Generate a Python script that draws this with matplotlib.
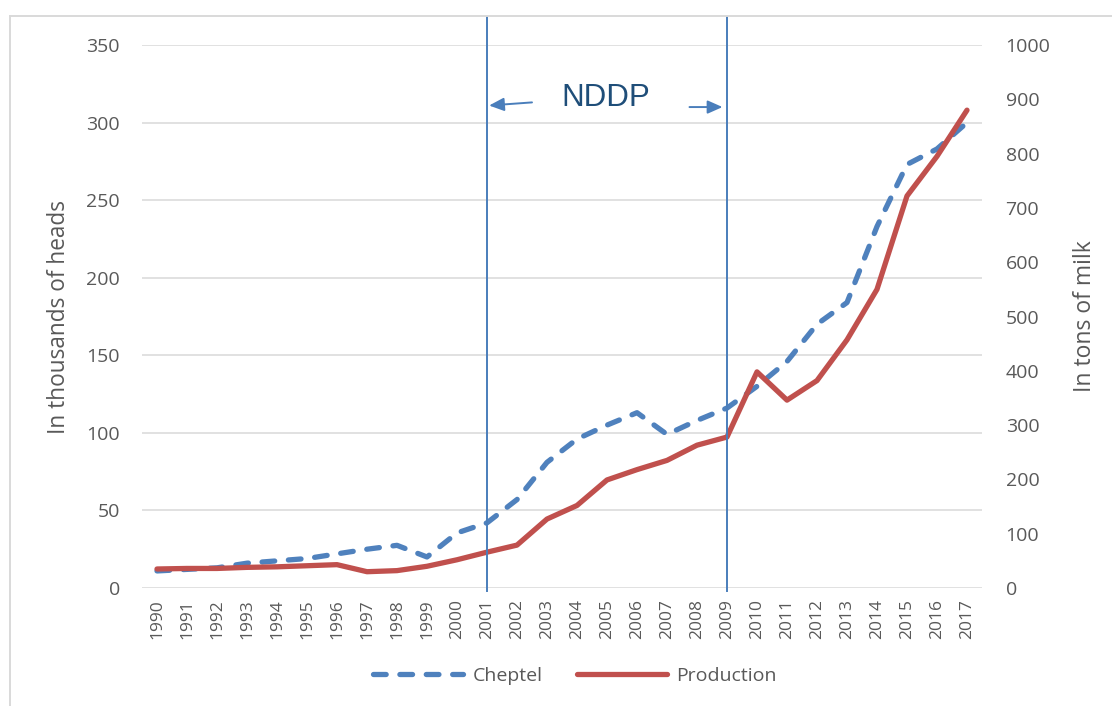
import matplotlib
matplotlib.use('Agg')
import matplotlib.pyplot as plt
from matplotlib.lines import Line2D

years = list(range(1990, 2018))
cheptel = [11, 12, 13, 16, 17.5, 19, 22, 25, 27.5, 20, 35.5, 42, 57, 81, 96, 105, 113, 99, 108, 116,
           130, 146, 170, 184, 233, 273, 283, 300]
production = [35, 36, 36, 38, 39, 41, 43, 30, 32, 40, 52, 66, 79, 127, 152, 199, 218, 235, 263, 278,
              398, 346, 382, 457, 550, 722, 795, 880]
nddp_start, nddp_end = 2001, 2009

grey = '#595959'
plt.rcParams['font.family'] = ['Open Sans', 'DejaVu Sans']

fig = plt.figure(figsize=(11.12, 7.06), dpi=100)
ax = fig.add_axes([142 / 1112, 1 - 588 / 706, 840 / 1112, 543 / 706])
ax2 = ax.twinx()

l1, = ax.plot(years, cheptel, color='#4F81BD', lw=3.8, dashes=[2.4, 2.6],
              dash_capstyle='round', solid_joinstyle='round', label='Cheptel')
l2, = ax2.plot(years, production, color='#C0504D', lw=3.8,
               solid_capstyle='round', solid_joinstyle='round', label='Production')

ax.set_xlim(years[0] - 0.5, years[-1] + 0.5)
ax.set_ylim(0, 350)
ax2.set_ylim(0, 1000)
ax.set_yticks(range(0, 351, 50))
ax2.set_yticks(range(0, 1001, 100))
ax.set_xticks(years)
ax.set_xticklabels([str(y) for y in years], rotation=90)

ax.grid(axis='y', color='#D9D9D9', lw=1.1)
ax.set_axisbelow(True)
for a in (ax, ax2):
    for s in a.spines.values():
        s.set_visible(False)
ax.tick_params(axis='y', length=0, pad=16, labelsize=14, labelcolor=grey)
ax.tick_params(axis='x', length=0, pad=8, labelsize=12.5, labelcolor=grey)
ax2.tick_params(axis='y', length=0, pad=17, labelsize=14, labelcolor=grey)

ax.set_ylabel('In thousands of heads', fontsize=16.3, color=grey)
ax2.set_ylabel('In tons of milk', fontsize=16.5, color=grey)
ax.yaxis.set_label_coords(-0.085, 0.5)
ax2.yaxis.set_label_coords(1.108, 0.5)

# NDDP period markers
for yr in (nddp_start, nddp_end):
    ax2.axvline(yr, ymin=-0.005, ymax=1.052, color='#4A7EBB', lw=1.4, clip_on=False, zorder=5)

ax.text(2004.95, 316, 'NDDP', fontsize=22.5, color='#1F4E79', family='Liberation Sans',
        ha='center', va='center')
arrow = dict(arrowstyle='-|>,head_length=0.9,head_width=0.4', color='#4A7EBB', lw=1.4,
             shrinkA=0, shrinkB=0)
ax.annotate('', xy=(2001.07, 311), xytext=(2002.5, 313), arrowprops=arrow)
ax.annotate('', xy=(2008.85, 310), xytext=(2007.75, 310), arrowprops=arrow)

fig.legend(handles=[l1, l2], loc='center', bbox_to_anchor=(575 / 1112, 1 - 676 / 706),
           ncol=2, frameon=False, fontsize=14, labelcolor=grey, handlelength=4.6,
           columnspacing=1.8, handletextpad=0.5)

# chart frame
fig.add_artist(Line2D([10 / 1112, 10 / 1112], [0, 1 - 16 / 706], color='#D9D9D9', lw=1.4))
fig.add_artist(Line2D([10 / 1112, 1], [1 - 16 / 706, 1 - 16 / 706], color='#D9D9D9', lw=1.4))

fig.savefig('out.png', dpi=100, facecolor='white')
